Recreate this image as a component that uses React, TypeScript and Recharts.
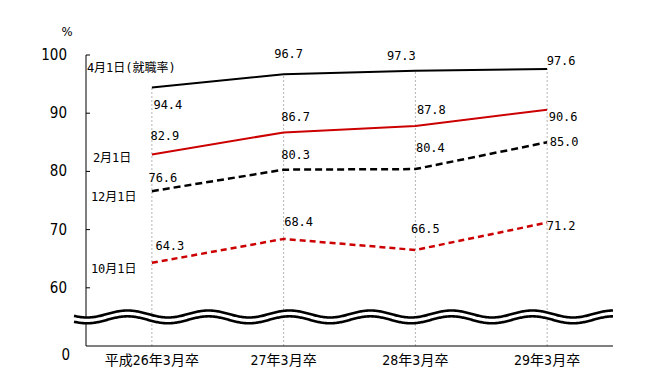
import React from "react";
import { LineChart, Line, XAxis, YAxis, ReferenceLine, ReferenceArea } from "recharts";

const categories = ["平成26年3月卒", "27年3月卒", "28年3月卒", "29年3月卒"];
const apr1 = [94.4, 96.7, 97.3, 97.6];
const feb1 = [82.9, 86.7, 87.8, 90.6];
const dec1 = [76.6, 80.3, 80.4, 85.0];
const oct1 = [64.3, 68.4, 66.5, 71.2];
const seriesNames = ["4月1日(就職率)", "2月1日", "12月1日", "10月1日"];
const yTicks = [50, 60, 70, 80, 90, 100];

const data = categories.map((c, i) => ({
  cat: c,
  apr1: apr1[i],
  feb1: feb1[i],
  dec1: dec1[i],
  oct1: oct1[i]
}));

// where each value label sits, relative to its point (px)
const labelOffsets: Record<string, number[][]> = {
  apr1: [[16, 17], [5, -20], [-14, -15], [14, -8]],
  feb1: [[13, -19], [12, -15], [16, -16], [16, 7]],
  dec1: [[11, -13], [12, -15], [15, -21], [17, 0]],
  oct1: [[18, -17], [15, -17], [10, -21], [14, 3]]
};
const nameOffsets: Record<string, number[]> = {
  apr1: [-65, -20],
  feb1: [-59, 3],
  dec1: [-61, 6],
  oct1: [-61, 6]
};

const monoFont = "'DejaVu Sans Mono', monospace";
const jpFont = "'DejaVu Sans Mono', 'Noto Sans CJK JP', sans-serif";
const narrowFont = "'Liberation Sans Narrow', 'DejaVu Sans Condensed', 'Noto Sans CJK JP', sans-serif";

function makeLabel(key: string, name: string) {
  return (props: any) => {
    const { x, y, value, index } = props;
    const [dx, dy] = labelOffsets[key][index];
    const [nx, ny] = nameOffsets[key];
    return (
      <g key={`${key}-${index}`}>
        <text
          x={x + dx}
          y={y + dy}
          textAnchor="middle"
          dominantBaseline="central"
          fontFamily={monoFont}
          fontSize={12}
          fill="#000"
        >
          {Number(value).toFixed(1)}
        </text>
        {index === 0 && (
          <text
            x={x + nx}
            y={y + ny}
            textAnchor="start"
            dominantBaseline="central"
            fontFamily={jpFont}
            fontSize={12}
            fill="#000"
          >
            {name}
          </text>
        )}
      </g>
    );
  };
}

const YTick = (props: any) => {
  const { x, y, payload } = props;
  const v = payload.value;
  const isBase = v === 50;
  return (
    <g>
      {!isBase && <line x1={x} x2={x + 4} y1={y} y2={y} stroke="#000" strokeWidth={1} />}
      <text
        x={isBase ? x - 16 : x - 19}
        y={isBase ? y + 9 : y}
        textAnchor="end"
        dominantBaseline="central"
        fontFamily={narrowFont}
        fontSize={15}
        fill="#000"
      >
        {isBase ? "0" : v}
      </text>
    </g>
  );
};

const XTick = (props: any) => {
  const { x, y, payload } = props;
  return (
    <text
      x={x}
      y={y + 14}
      textAnchor="middle"
      dominantBaseline="central"
      fontFamily={narrowFont}
      fontSize={14}
      fill="#000"
    >
      {payload.value}
    </text>
  );
};

// double wavy line marking the broken axis
const WaveBreak = (props: any) => {
  const { x, y, width, height } = props;
  const left = x - 12;
  const right = x + width;
  const period = 81;
  const amp = 3.5;
  const wave = (px: number, base: number) =>
    base + amp * Math.cos((2 * Math.PI * (px - (x + 1))) / period);
  const top: string[] = [];
  const bottom: string[] = [];
  for (let px = left; px <= right; px += 1) {
    top.push(`${px},${wave(px, y).toFixed(2)}`);
    bottom.push(`${px},${wave(px, y + height).toFixed(2)}`);
  }
  const fill = `M${top.join(" L")} L${bottom.slice().reverse().join(" L")} Z`;
  return (
    <g>
      <path d={fill} fill="#fff" stroke="none" />
      <path d={`M${top.join(" L")}`} fill="none" stroke="#000" strokeWidth={2.6} />
      <path d={`M${bottom.join(" L")}`} fill="none" stroke="#000" strokeWidth={2.6} />
    </g>
  );
};

export default function App() {
  return (
    <div
      style={{
        position: "absolute",
        left: 0,
        top: 0,
        width: 649,
        height: 376,
        background: "#fff"
      }}
    >
      <div
        style={{
          position: "absolute",
          left: 60,
          top: 24,
          width: 14,
          height: 16,
          lineHeight: "16px",
          fontFamily: narrowFont,
          fontSize: 13,
          textAlign: "center"
        }}
      >
        %
      </div>
      <LineChart
        width={649}
        height={376}
        data={data}
        margin={{ top: 55, right: 36, bottom: 0, left: 26 }}
      >
        <XAxis
          dataKey="cat"
          scale="band"
          tickLine={false}
          tickSize={0}
          tickMargin={0}
          axisLine={{ stroke: "#000", strokeWidth: 1 }}
          tick={<XTick />}
          height={30}
          interval={0}
        />
        <YAxis
          type="number"
          domain={[50, 100]}
          ticks={yTicks}
          allowDataOverflow
          width={60}
          tickLine={false}
          tickSize={0}
          tickMargin={0}
          axisLine={{ stroke: "#000", strokeWidth: 1 }}
          tick={<YTick />}
        />

        {categories.map((c, i) => (
          <ReferenceLine
            key={c}
            segment={[
              { x: c, y: 50 },
              { x: c, y: apr1[i] }
            ]}
            stroke="#b4b4b4"
            strokeDasharray="2 2"
            strokeWidth={1}
          />
        ))}

        <ReferenceArea
          y1={54.5}
          y2={55.5}
          ifOverflow="visible"
          shape={<WaveBreak />}
          zIndex={1000}
        />

        <Line
          dataKey="apr1"
          stroke="#000"
          strokeWidth={2}
          dot={false}
          isAnimationActive={false}
          label={makeLabel("apr1", seriesNames[0])}
        />
        <Line
          dataKey="feb1"
          stroke="#cc0000"
          strokeWidth={2}
          dot={false}
          isAnimationActive={false}
          label={makeLabel("feb1", seriesNames[1])}
        />
        <Line
          dataKey="dec1"
          stroke="#000"
          strokeWidth={2.5}
          strokeDasharray="7 4"
          dot={false}
          isAnimationActive={false}
          label={makeLabel("dec1", seriesNames[2])}
        />
        <Line
          dataKey="oct1"
          stroke="#cc0000"
          strokeWidth={2.5}
          strokeDasharray="6 4"
          dot={false}
          isAnimationActive={false}
          label={makeLabel("oct1", seriesNames[3])}
        />
      </LineChart>
    </div>
  );
}
